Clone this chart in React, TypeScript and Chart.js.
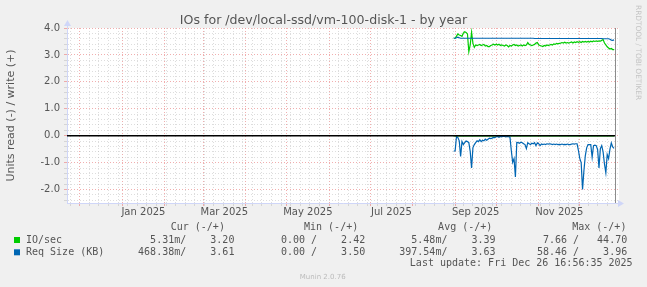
import React, { useEffect, useRef } from 'react';
import { Chart, registerables } from 'chart.js';

Chart.register(...registerables);

// ---------- Text ----------
const TITLE = 'IOs for /dev/local-ssd/vm-100-disk-1 - by year';
const Y_AXIS_TITLE = 'Units read (-) / write (+)';
const WATERMARK = 'RRDTOOL / TOBI OETIKER';
const VERSION_TEXT = 'Munin 2.0.76';
const LAST_UPDATE = 'Last update: Fri Dec 26 16:56:35 2025';

// ---------- Time axis (days since 2025-01-01) ----------
const NOW_DAY = 359.706;
const WINDOW_DAYS = 400;
const X_MIN = NOW_DAY - WINDOW_DAYS;
const X_MAX = NOW_DAY + 2.9;
const MONTH_START_DAYS = [-31, 0, 31, 59, 90, 120, 151, 181, 212, 243, 273, 304, 334];
const MONTH_LABELS = ['Jan 2025', 'Mar 2025', 'May 2025', 'Jul 2025', 'Sep 2025', 'Nov 2025'];
const MONTH_LABEL_DAYS = [15.5, 74.5, 135.5, 196.5, 258, 319];
const FIRST_WEEK_DAY = -38; // Sunday 2024-11-24
const WEEK_LENGTH = 7;

// ---------- Value axis ----------
const Y_MIN = -2.5;
const Y_MAX = 4.0;
const Y_MINOR_PER_UNIT = 5;

// ---------- Series (one value per day, from SERIES_START_DAY) ----------
const SERIES_START_DAY = 242;

// IO/sec, write (+)
const ioWrite = [
  3.62, 3.62, 3.70, 3.78, 3.74, 3.72, 3.69, 3.81, 3.86, 3.83,
  3.78, 3.12, 3.37, 3.84, 3.43, 3.28, 3.37, 3.35, 3.37, 3.39,
  3.35, 3.37, 3.39, 3.33, 3.35, 3.31, 3.31, 3.35, 3.37, 3.40,
  3.37, 3.40, 3.37, 3.40, 3.35, 3.37, 3.35, 3.33, 3.37, 3.35,
  3.30, 3.35, 3.33, 3.37, 3.39, 3.35, 3.37, 3.33, 3.35, 3.37,
  3.33, 3.37, 3.35, 3.37, 3.46, 3.39, 3.37, 3.35, 3.37, 3.39,
  3.44, 3.46, 3.37, 3.35, 3.33, 3.31, 3.35, 3.33, 3.37, 3.35,
  3.37, 3.39, 3.37, 3.41, 3.39, 3.43, 3.41, 3.43, 3.44, 3.46,
  3.44, 3.47, 3.44, 3.46, 3.44, 3.46, 3.48, 3.44, 3.48, 3.46,
  3.49, 3.47, 3.49, 3.46, 3.50, 3.48, 3.50, 3.48, 3.50, 3.48,
  3.51, 3.49, 3.52, 3.50, 3.52, 3.50, 3.52, 3.51, 3.54, 3.57,
  3.44, 3.37, 3.30, 3.26, 3.22, 3.24, 3.20, 3.20,
];

// IO/sec, read (-)
const ioRead = [
  -0.005, -0.006, -0.005, -0.005, -0.006, -0.005, -0.005, -0.006, -0.005, -0.005,
  -0.006, -0.008, -0.006, -0.005, -0.005, -0.006, -0.005, -0.005, -0.006, -0.005,
  -0.005, -0.006, -0.005, -0.005, -0.006, -0.005, -0.005, -0.006, -0.005, -0.005,
  -0.006, -0.005, -0.005, -0.006, -0.005, -0.005, -0.006, -0.005, -0.005, -0.006,
  -0.005, -0.005, -0.006, -0.005, -0.005, -0.006, -0.005, -0.005, -0.006, -0.005,
  -0.005, -0.006, -0.005, -0.005, -0.006, -0.005, -0.005, -0.006, -0.005, -0.005,
  -0.006, -0.005, -0.005, -0.006, -0.005, -0.005, -0.006, -0.005, -0.005, -0.006,
  -0.005, -0.005, -0.006, -0.005, -0.005, -0.006, -0.005, -0.005, -0.006, -0.005,
  -0.005, -0.006, -0.005, -0.005, -0.006, -0.005, -0.005, -0.006, -0.005, -0.005,
  -0.006, -0.005, -0.005, -0.006, -0.005, -0.005, -0.006, -0.005, -0.005, -0.006,
  -0.005, -0.005, -0.006, -0.005, -0.005, -0.006, -0.005, -0.005, -0.006, -0.005,
  -0.005, -0.006, -0.005, -0.005, -0.006, -0.005, -0.005, -0.005,
];

// Req Size (KB), write (+)
const reqWrite = [
  3.62, 3.62, 3.64, 3.66, 3.64, 3.62, 3.62, 3.62, 3.62, 3.62,
  3.62, 3.62, 3.62, 3.62, 3.62, 3.62, 3.62, 3.62, 3.62, 3.62,
  3.62, 3.62, 3.62, 3.62, 3.62, 3.62, 3.62, 3.62, 3.62, 3.62,
  3.62, 3.62, 3.62, 3.62, 3.62, 3.62, 3.62, 3.62, 3.62, 3.62,
  3.62, 3.62, 3.62, 3.62, 3.62, 3.62, 3.62, 3.62, 3.62, 3.62,
  3.62, 3.62, 3.62, 3.62, 3.62, 3.62, 3.62, 3.62, 3.62, 3.61,
  3.61, 3.61, 3.61, 3.61, 3.61, 3.61, 3.61, 3.61, 3.61, 3.61,
  3.61, 3.61, 3.61, 3.61, 3.61, 3.61, 3.61, 3.61, 3.61, 3.61,
  3.61, 3.61, 3.61, 3.61, 3.61, 3.61, 3.61, 3.61, 3.61, 3.61,
  3.61, 3.61, 3.61, 3.61, 3.61, 3.61, 3.61, 3.61, 3.61, 3.61,
  3.61, 3.61, 3.61, 3.61, 3.61, 3.61, 3.61, 3.61, 3.61, 3.60,
  3.60, 3.60, 3.60, 3.60, 3.58, 3.55, 3.54, 3.56,
];

// Req Size (KB), read (-)
const reqRead = [
  -0.58, -0.56, -0.03, -0.07, -0.19, -0.77, -0.22, -0.33, -0.26, -0.20,
  -0.22, -0.26, -0.58, -1.20, -0.44, -0.33, -0.26, -0.19, -0.22, -0.15,
  -0.22, -0.17, -0.19, -0.13, -0.17, -0.13, -0.09, -0.11, -0.09, -0.06,
  -0.07, -0.04, -0.03, -0.06, -0.03, -0.04, -0.02, -0.03, -0.04, -0.03,
  -0.04, -0.05, -0.55, -0.99, -0.85, -1.53, -0.25, -0.26, -0.28, -0.24,
  -0.26, -0.30, -0.33, -0.48, -0.26, -0.30, -0.33, -0.28, -0.30, -0.26,
  -0.37, -0.27, -0.30, -0.37, -0.31, -0.33, -0.31, -0.33, -0.30, -0.31,
  -0.30, -0.31, -0.33, -0.31, -0.33, -0.31, -0.33, -0.32, -0.33, -0.31,
  -0.33, -0.32, -0.33, -0.31, -0.33, -0.33, -0.31, -0.30, -0.31, -0.30,
  -0.30, -0.55, -0.85, -1.00, -2.00, -1.30, -0.75, -0.45, -0.33, -0.33,
  -0.33, -0.80, -0.37, -0.35, -0.37, -0.52, -1.20, -0.48, -0.37, -0.60,
  -1.05, -1.38, -0.70, -0.85, -0.50, -0.27, -0.42, -0.47,
];

const ZERO_RULE = [0, 0];

// ---------- Legend ----------
const LEGEND_NAMES = ['IO/sec', 'Req Size (KB)'];
const LEGEND_COLORS = ['#00CC00', '#0066B3'];
const LEGEND_HEADERS = ['Cur (-/+)', 'Min (-/+)', 'Avg (-/+)', 'Max (-/+)'];
const IO_STATS = [['5.31m/', '3.20'], ['0.00 /', '2.42'], ['5.48m/', '3.39'], ['7.66 /', '44.70']];
const REQ_STATS = [['468.38m/', '3.61'], ['0.00 /', '3.50'], ['397.54m/', '3.63'], ['58.46 /', '3.96']];

// ---------- Styles ----------
const BG = '#F0F0F0';
const FONT_COLOR = '#555555';
const AXIS_COLOR = '#CFD6F8';
const MAJOR_GRID = 'rgba(235, 140, 140, 0.7)';
const MINOR_GRID = 'rgba(180, 180, 180, 0.45)';
const SANS = "'DejaVu Sans', sans-serif";
const MONO = "'DejaVu Sans Mono', monospace";

const toPoints = (arr: number[]) => arr.map((v, i) => ({ x: SERIES_START_DAY + i, y: v }));

function buildXTicks() {
  const map = new Map<number, { kind: string; txt: string }>();
  for (let d = FIRST_WEEK_DAY; d <= NOW_DAY; d += WEEK_LENGTH) map.set(d, { kind: 'minor', txt: '' });
  MONTH_START_DAYS.forEach((d) => map.set(d, { kind: 'major', txt: '' }));
  MONTH_LABEL_DAYS.forEach((d, i) => {
    const e = map.get(d);
    if (e) e.txt = MONTH_LABELS[i];
    else map.set(d, { kind: 'none', txt: MONTH_LABELS[i] });
  });
  return [...map.entries()].sort((a, b) => a[0] - b[0]).map(([value, info]) => ({ value, ...info }));
}

function buildYTicks() {
  const out: any[] = [];
  const lo = Math.ceil(Y_MIN * Y_MINOR_PER_UNIT);
  const hi = Math.floor(Y_MAX * Y_MINOR_PER_UNIT);
  for (let k = lo; k <= hi; k++) {
    const major = k % Y_MINOR_PER_UNIT === 0;
    const value = k / Y_MINOR_PER_UNIT;
    out.push({ value, kind: major ? 'major' : 'minor', txt: major ? value.toFixed(1) : '' });
  }
  return out;
}

const gridColor = (ctx: any) => {
  const t = ctx.tick;
  if (!t) return 'rgba(0,0,0,0)';
  if (t.kind === 'major') return MAJOR_GRID;
  if (t.kind === 'minor') return MINOR_GRID;
  return 'rgba(0,0,0,0)';
};

const decorPlugin = {
  id: 'muninDecor',
  beforeDraw(chart: any) {
    const { ctx, chartArea: a } = chart;
    ctx.save();
    ctx.fillStyle = BG;
    ctx.fillRect(0, 0, chart.width, chart.height);
    ctx.fillStyle = '#FFFFFF';
    ctx.fillRect(a.left, a.top, a.right - a.left, a.bottom - a.top);
    ctx.restore();
  },
  afterDatasetsDraw(chart: any) {
    const { ctx, chartArea: a } = chart;
    const x = Math.round(chart.scales.x.getPixelForValue(NOW_DAY)) + 0.5;
    ctx.save();
    ctx.strokeStyle = '#8C8C8C';
    ctx.lineWidth = 1;
    ctx.beginPath();
    ctx.moveTo(x, a.top);
    ctx.lineTo(x, a.bottom);
    ctx.stroke();
    ctx.restore();
  },
  afterDraw(chart: any) {
    const { ctx, chartArea: a } = chart;
    ctx.save();
    // axis arrows
    ctx.fillStyle = AXIS_COLOR;
    ctx.strokeStyle = AXIS_COLOR;
    ctx.lineWidth = 1;
    ctx.beginPath();
    ctx.moveTo(a.left + 0.5, a.top);
    ctx.lineTo(a.left + 0.5, a.top - 3);
    ctx.stroke();
    ctx.beginPath();
    ctx.moveTo(a.left - 3, a.top - 2);
    ctx.lineTo(a.left + 4, a.top - 2);
    ctx.lineTo(a.left + 0.5, a.top - 8);
    ctx.closePath();
    ctx.fill();
    const by = Math.round(a.bottom) + 0.5;
    ctx.beginPath();
    ctx.moveTo(a.right - 1, by - 3.5);
    ctx.lineTo(a.right - 1, by + 3.5);
    ctx.lineTo(a.right + 5, by);
    ctx.closePath();
    ctx.fill();

    // title
    ctx.fillStyle = FONT_COLOR;
    ctx.font = `12.6px ${SANS}`;
    ctx.textAlign = 'center';
    ctx.textBaseline = 'alphabetic';
    ctx.fillText(TITLE, 323.5, 24);

    // y axis title
    ctx.save();
    ctx.translate(14, (a.top + a.bottom) / 2);
    ctx.rotate(-Math.PI / 2);
    ctx.font = `11px ${SANS}`;
    ctx.textAlign = 'center';
    ctx.fillText(Y_AXIS_TITLE, 0, 0);
    ctx.restore();

    // watermark
    ctx.save();
    ctx.translate(635.5, 5);
    ctx.rotate(Math.PI / 2);
    ctx.font = `7.4px ${SANS}`;
    ctx.fillStyle = '#C4C4C4';
    ctx.textAlign = 'left';
    ctx.fillText(WATERMARK, 0, 0);
    ctx.restore();

    // legend
    const colRight = [234.4, 365.2, 495.6, 627.2];
    const headRight = [224.9, 358.2, 492.3, 626.4];
    ctx.font = `10px ${MONO}`;
    ctx.textBaseline = 'middle';
    ctx.textAlign = 'right';
    LEGEND_HEADERS.forEach((h, i) => ctx.fillText(h, headRight[i], 227.5));
    const rows = [IO_STATS, REQ_STATS];
    const rowY = [240, 252.3];
    rows.forEach((stats, r) => {
      ctx.fillStyle = LEGEND_COLORS[r];
      ctx.fillRect(14, rowY[r] - 3, 6, 6);
      ctx.fillStyle = FONT_COLOR;
      ctx.textAlign = 'left';
      ctx.fillText(LEGEND_NAMES[r], 26, rowY[r]);
      ctx.textAlign = 'right';
      stats.forEach((pair, c) => ctx.fillText(pair[0] + pair[1].padStart(8), colRight[c], rowY[r]));
    });
    ctx.fillText(LAST_UPDATE, 632.6, 263.5);

    ctx.font = `7px ${SANS}`;
    ctx.fillStyle = '#BBBBBB';
    ctx.textAlign = 'center';
    ctx.fillText(VERSION_TEXT, 322.7, 277);
    ctx.restore();
  },
};

export default function App() {
  const canvasRef = useRef<HTMLCanvasElement | null>(null);

  useEffect(() => {
    const canvas = canvasRef.current;
    if (!canvas) return;
    const xTicks = buildXTicks();
    const yTicks = buildYTicks();
    const lineDefaults = { pointRadius: 0, borderWidth: 1.2, tension: 0, fill: false };
    const chart = new Chart(canvas, {
      type: 'line',
      data: {
        datasets: [
          { ...lineDefaults, label: 'zero', data: [{ x: X_MIN, y: ZERO_RULE[0] }, { x: NOW_DAY, y: ZERO_RULE[1] }], borderColor: '#000000', borderWidth: 1.6, order: 0 },
          { ...lineDefaults, label: 'IO/sec read', data: toPoints(ioRead), borderColor: LEGEND_COLORS[0], order: 3 },
          { ...lineDefaults, label: 'IO/sec write', data: toPoints(ioWrite), borderColor: LEGEND_COLORS[0], order: 3 },
          { ...lineDefaults, label: 'Req Size read', data: toPoints(reqRead), borderColor: LEGEND_COLORS[1], order: 2 },
          { ...lineDefaults, label: 'Req Size write', data: toPoints(reqWrite), borderColor: LEGEND_COLORS[1], order: 2 },
        ],
      },
      options: {
        responsive: false,
        animation: false,
        devicePixelRatio: 1,
        events: [],
        layout: { padding: { left: 0, right: 28, top: 28, bottom: 0 } },
        plugins: { legend: { display: false }, tooltip: { enabled: false }, title: { display: false } },
        scales: {
          x: {
            type: 'linear',
            min: X_MIN,
            max: X_MAX,
            afterBuildTicks: (s: any) => { s.ticks = xTicks.map((t) => ({ ...t })); },
            afterFit: (s: any) => { s.height = 84; },
            ticks: {
              autoSkip: false,
              maxRotation: 0,
              minRotation: 0,
              padding: 0,
              color: FONT_COLOR,
              font: { family: SANS, size: 10 },
              callback: (_v: any, i: number, ticks: any[]) => ticks[i].txt,
            },
            grid: { color: gridColor, lineWidth: 1, tickLength: 3, drawTicks: true },
            border: { display: true, color: AXIS_COLOR, width: 1, dash: [1, 2] },
          },
          y: {
            type: 'linear',
            min: Y_MIN,
            max: Y_MAX,
            afterBuildTicks: (s: any) => { s.ticks = yTicks.map((t) => ({ ...t })); },
            afterFit: (s: any) => { s.width = 67; },
            ticks: {
              autoSkip: false,
              padding: 4,
              color: FONT_COLOR,
              font: { family: SANS, size: 10 },
              callback: (_v: any, i: number, ticks: any[]) => ticks[i].txt,
            },
            grid: { color: gridColor, lineWidth: 1, tickLength: 3, drawTicks: true },
            border: { display: true, color: AXIS_COLOR, width: 1, dash: [1, 2] },
          },
        },
      },
      plugins: [decorPlugin],
    } as any);
    return () => chart.destroy();
  }, []);

  return (
    <div style={{ position: 'absolute', left: 0, top: 0, width: 647, height: 287 }}>
      <canvas ref={canvasRef} width={647} height={287} style={{ display: 'block', width: 647, height: 287 }} />
    </div>
  );
}
